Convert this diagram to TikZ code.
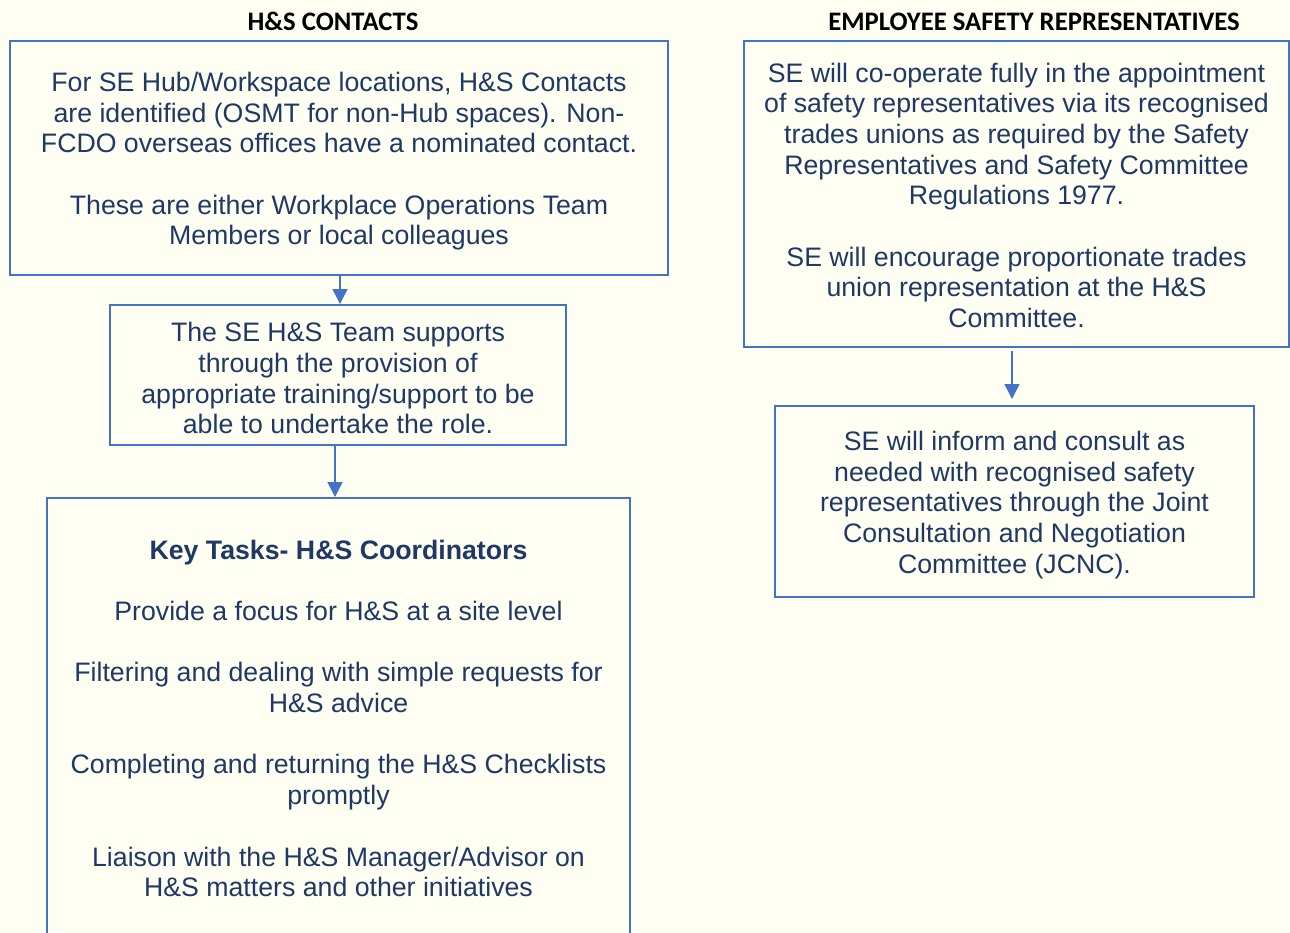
\documentclass[tikz,border=0pt]{standalone}
\usepackage{fontspec}
\setmainfont{Liberation Sans}
\newfontfamily\headfont{Carlito}
\usetikzlibrary{arrows.meta}
\definecolor{boxblue}{HTML}{4472C4}
\definecolor{textblue}{HTML}{1F3864}
\definecolor{paper}{HTML}{FEFEF2}
\newcommand{\gap}{\\[30.7pt]}
\newcommand{\topstrut}[1]{\rule{0pt}{#1}}

\begin{document}
\begin{tikzpicture}[x=1pt, y=-1pt,
    box/.style={draw=boxblue, line width=2pt, rectangle, align=center, inner sep=0pt, text=textblue, font=\fontsize{26.7}{30.7}\selectfont},
    head/.style={anchor=base, font=\headfont\bfseries\fontsize{26.7}{30}\selectfont},
    arr/.style={draw=boxblue, line width=1.5pt, -{Triangle[width=15pt,length=15pt]}}]
    \useasboundingbox[fill=paper] (0,0) rectangle (1290,932);

    % Left column
    \node[head] (head-left) at (333,30.5) {H\&S CONTACTS};
    \node[box, minimum width=658pt, minimum height=234pt] (contacts) at (339,158)
        {\topstrut{26pt}For SE Hub/Workspace locations, H\&S Contacts\\are identified (OSMT for non-Hub spaces). Non-\\FCDO overseas offices have a nominated contact.\gap
         These are either Workplace Operations Team\\Members or local colleagues};
    \node[box, minimum width=456pt, minimum height=140pt] (support) at (338,375)
        {\topstrut{26pt}The SE H\&S Team supports\\through the provision of\\appropriate training/support to be\\able to undertake the role.};
    \node[box, minimum width=583pt, minimum height=438pt] (tasks) at (338.5,717)
        {\topstrut{22pt}\textbf{Key Tasks- H\&S Coordinators}\gap
         Provide a focus for H\&S at a site level\gap
         Filtering and dealing with simple requests for\\H\&S advice\gap
         Completing and returning the H\&S Checklists\\promptly\gap
         Liaison with the H\&S Manager/Advisor on\\H\&S matters and other initiatives};

    % Right column
    \node[head] (head-right) at (1034,30.5) {EMPLOYEE SAFETY REPRESENTATIVES};
    \node[box, minimum width=545pt, minimum height=306pt] (reps) at (1016.5,194)
        {\topstrut{22pt}SE will co-operate fully in the appointment\\of safety representatives via its recognised\\trades unions as required by the Safety\\Representatives and Safety Committee\\Regulations 1977.\gap
         SE will encourage proportionate trades\\union representation at the H\&S\\Committee.};
    \node[box, minimum width=479pt, minimum height=191pt] (consult) at (1014.5,501.5)
        {\topstrut{26pt}SE will inform and consult as\\needed with recognised safety\\representatives through the Joint\\Consultation and Negotiation\\Committee (JCNC).};

    \draw[arr] ([xshift=1pt]contacts.south) -- ([xshift=2pt]support.north);
    \draw[arr] ([xshift=-3pt]support.south) -- ([xshift=-3.5pt]tasks.north);
    \draw[arr] ([xshift=-4.5pt,yshift=-3pt]reps.south) -- ([xshift=-2.5pt,yshift=6pt]consult.north);
\end{tikzpicture}
\end{document}
